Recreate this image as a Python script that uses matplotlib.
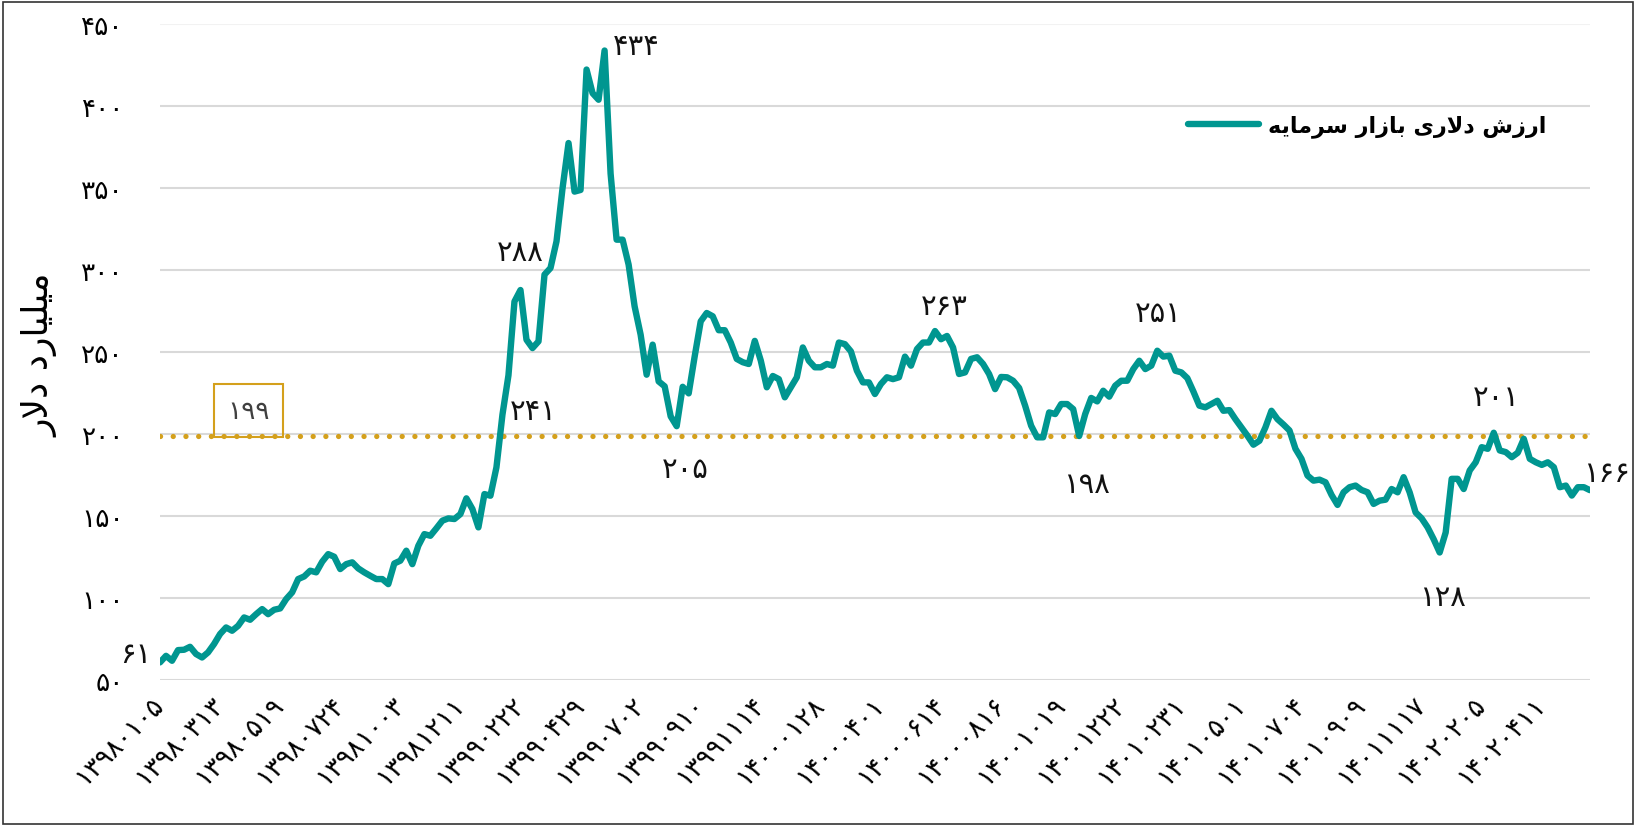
import numpy as np
import matplotlib
matplotlib.use("Agg")
from matplotlib import pyplot as plt
from matplotlib.patches import Rectangle

plt.rcParams['font.family'] = ['DejaVu Sans']

# ارزش دلاری بازار سرمایه (میلیارد دلار) - نمونه گیری تقریبی از نمودار
values = [
    61, 65.0, 62.0, 68.5, 68.7, 70.5, 66.1, 64.0, 67.1, 72.2,
    78.3, 82.3, 80.3, 83.3, 88.4, 87.0, 90.4, 93.5, 90.4, 93.1,
    93.9, 99.6, 103.7, 111.8, 113.4, 116.9, 115.9, 122.4, 127.0, 125.4,
    117.9, 120.9, 122.0, 118.3, 115.9, 113.8, 111.8, 111.8, 108.7, 121.3,
    123.0, 129.1, 120.9, 132.1, 139.2, 138.2, 142.7, 147.4, 148.8, 148.4,
    151.4, 161.0, 154.5, 143.3, 163.6, 162.6, 179.9, 212, 236, 281,
    288, 257.7, 252.6, 256.7, 297.4, 301.4, 317.7, 350, 377.6, 348,
    349, 422.4, 408, 404, 434, 359, 318.7, 318.7, 303.5, 278,
    260.8, 236.4, 254.7, 232.3, 229.3, 211, 205, 229, 225, 247.6,
    268.9, 274, 272, 263.5, 263.5, 256, 246, 244, 242.9, 257,
    245, 228.7, 235.6, 233.7, 222.6, 228.7, 234.8, 253, 244.9, 240.9,
    240.9, 242.9, 241.9, 256, 255, 250.6, 238.8, 231.7, 231.7, 224.6,
    230.7, 234.8, 233.7, 234.8, 247.4, 241.9, 252, 256, 256, 263,
    258, 260, 253, 236.8, 237.8, 246, 247, 242.9, 236.8, 227.6,
    235, 234.8, 232.7, 228.3, 217.5, 205.3, 198.2, 198.2, 213.4, 212.4,
    218.5, 218.5, 215.4, 199, 212.4, 222.2, 220.1, 226.6, 223, 229.7,
    232.7, 232.7, 239.8, 244.9, 239.8, 241.9, 251, 247.4, 248, 238.8,
    237.8, 234.3, 226.2, 217.5, 216.5, 218.5, 220.5, 214.4, 214.8, 209.3,
    204.3, 199.2, 193.7, 196.1, 204.3, 214.4, 209.3, 206, 202.4, 191.2,
    185.1, 174.9, 171.8, 172.4, 170.8, 163.1, 157, 164.7, 167.8, 168.8,
    166.1, 164.7, 157.6, 159.6, 160.2, 166.7, 164.7, 173.9, 164.7, 152.4,
    148.8, 143.3, 136.1, 128, 140.2, 172.9, 172.9, 166.7, 178, 183,
    192.2, 191.2, 201, 190.2, 189.2, 186.1, 188.8, 197.3, 185.1, 183,
    181.4, 183, 180, 167.8, 168.8, 162.7, 167.8, 167.8, 166,
]

# تاریخ برچسب ها (هر ۱۰ نقطه)
tick_dates = ['13980105', '13980313', '13980519', '13980724', '13981003',
              '13981211', '13990222', '13990429', '13990702', '13990910',
              '13991114', '14000128', '14000401', '14000614', '14000816',
              '14001019', '14001222', '14010231', '14010501', '14010704',
              '14010909', '14011117', '14020205', '14020411']
tick_step = 10

y_ticks = [50, 100, 150, 200, 250, 300, 350, 400, 450]
avg_level = 199

# برچسب نقاط: مقدار متن، مکان x، مکان y
notes_val = [61, 434, 288, 241, 205, 263, 198, 251, 201, 128]
notes_x = [-4, 79.2, 60, 62.2, 87.5, 130.5, 154.2, 166.2, 222.5, 213.5]
notes_y = [66, 437, 311, 214, 179, 278, 170, 274, 223, 101]
last_val = 166

title_legend = 'ارزش دلاری بازار سرمایه'
y_title = 'میلیارد دلار'

TEAL = '#009690'
GOLD = '#D4A01C'

FA = str.maketrans('0123456789', '۰۱۲۳۴۵۶۷۸۹')


def fa(s):
    return str(s).translate(FA)


# شکل حروف: تنها، پایانی، آغازی، میانی
FORMS = {
    'ا': ('\uFE8D', '\uFE8E', None, None),
    'ب': ('\uFE8F', '\uFE90', '\uFE91', '\uFE92'),
    'د': ('\uFEA9', '\uFEAA', None, None),
    'ر': ('\uFEAD', '\uFEAE', None, None),
    'ز': ('\uFEAF', '\uFEB0', None, None),
    'س': ('\uFEB1', '\uFEB2', '\uFEB3', '\uFEB4'),
    'ش': ('\uFEB5', '\uFEB6', '\uFEB7', '\uFEB8'),
    'ل': ('\uFEDD', '\uFEDE', '\uFEDF', '\uFEE0'),
    'م': ('\uFEE1', '\uFEE2', '\uFEE3', '\uFEE4'),
    'ه': ('\uFEE9', '\uFEEA', '\uFEEB', '\uFEEC'),
    'ی': ('\uFEEF', '\uFEF0', '\uFEF3', '\uFEF4'),
    'LA': ('\uFEFB', '\uFEFC', None, None),
}


def shape(text):
    tokens = []
    i = 0
    while i < len(text):
        if text[i] == 'ل' and i + 1 < len(text) and text[i + 1] == 'ا':
            tokens.append('LA')
            i += 2
        else:
            tokens.append(text[i])
            i += 1
    out = []
    for j, t in enumerate(tokens):
        f = FORMS.get(t)
        if f is None:
            out.append(t)
            continue
        pf = FORMS.get(tokens[j - 1]) if j > 0 else None
        nf = FORMS.get(tokens[j + 1]) if j + 1 < len(tokens) else None
        join_prev = pf is not None and pf[2] is not None
        join_next = f[2] is not None and nf is not None
        if join_prev and join_next:
            out.append(f[3])
        elif join_prev:
            out.append(f[1])
        elif join_next:
            out.append(f[2])
        else:
            out.append(f[0])
    return ''.join(reversed(out))


fig = plt.figure(figsize=(16.36, 8.29), dpi=100)
ax = fig.add_axes([0.0978, 0.178, 0.874, 0.7915])

x = np.arange(len(values))
ax.set_xlim(0, len(values) - 1)
ax.set_ylim(50, 450)

ax.set_yticks(y_ticks)
ax.set_yticklabels([fa(v) for v in y_ticks], fontsize=19)
ax.grid(axis='y', color='#d9d9d9', lw=1.5)
ax.get_ygridlines()[-1].set_color('#f2f2f2')
ax.set_axisbelow(True)

ax.set_xticks(np.arange(len(tick_dates)) * tick_step)
ax.set_xticklabels([fa(d) for d in tick_dates], fontsize=19, rotation=45,
                   ha='right', va='center', rotation_mode='anchor')
ax.tick_params(axis='y', length=0, pad=26)
ax.tick_params(axis='x', length=0, pad=14)
for s in ax.spines.values():
    s.set_visible(False)

ax.axhline(avg_level, color=GOLD, lw=3.8, linestyle=(0, (0.01, 2.4)),
           dash_capstyle='round', zorder=2)

ax.plot(x, values, color=TEAL, lw=4.6, solid_joinstyle='round',
        solid_capstyle='round', zorder=3, label=shape(title_legend))

ax.text(14.7, 214.5, fa(avg_level), fontsize=19, color='#404040',
        ha='center', va='center',
        bbox=dict(boxstyle='square,pad=0.5', fc='none', ec=GOLD, lw=1.5))

for xi, yi, v in zip(notes_x, notes_y, notes_val):
    ax.text(xi, yi, fa(v), fontsize=21, color='#111111', ha='center',
            va='center', clip_on=False)

# آخرین مقدار، کنار لبه راست
fig.text(1630 / 1636, 1 - 474 / 829, fa(last_val), fontsize=21,
         color='#111111', ha='right', va='center')

fig.text(40 / 1636, 1 - 355 / 829, shape(y_title), rotation=90,
         fontsize=26, ha='center', va='center')

leg = ax.legend(loc='center right', bbox_to_anchor=(1546 / 1636, 0.847),
                bbox_transform=fig.transFigure, frameon=False,
                prop={'size': 16, 'weight': 'bold'}, handlelength=3.2,
                handletextpad=0.4, borderpad=0, borderaxespad=0)
for h in leg.get_lines():
    h.set_solid_capstyle('round')

fig.patches.append(Rectangle((3 / 1636, 4 / 829), 1630 / 1636, 822 / 829,
                             transform=fig.transFigure, fill=False,
                             ec='#333333', lw=1.2))

fig.savefig('out.png', dpi=100)
